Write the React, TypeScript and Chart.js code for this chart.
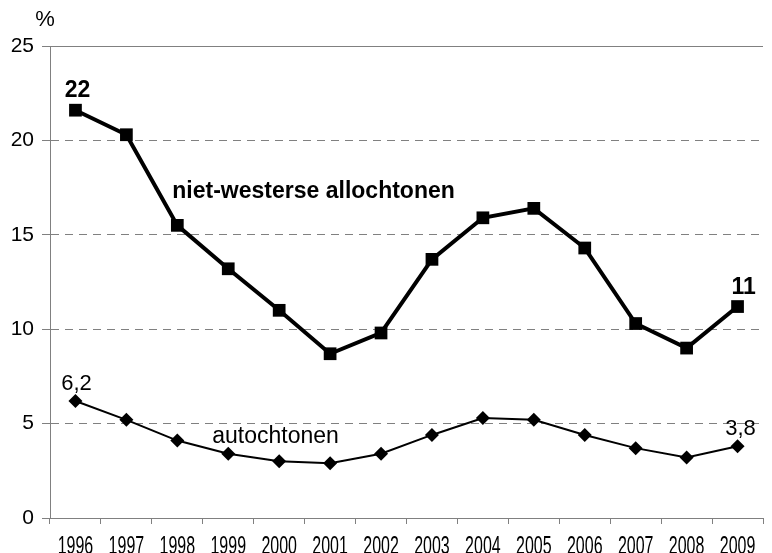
import React, { useEffect, useRef } from "react";
import { Chart, registerables } from "chart.js";

Chart.register(...registerables);

const years = ["1996", "1997", "1998", "1999", "2000", "2001", "2002", "2003", "2004", "2005", "2006", "2007", "2008", "2009"];
const nietWesters = [21.6, 20.3, 15.5, 13.2, 11.0, 8.7, 9.8, 13.7, 15.9, 16.4, 14.3, 10.3, 9.0, 11.2];
const autochtonen = [6.2, 5.2, 4.1, 3.4, 3.0, 2.9, 3.4, 4.4, 5.3, 5.2, 4.4, 3.7, 3.2, 3.8];
const yTicks = [0, 5, 10, 15, 20, 25];

const FONT = "'Liberation Sans', Arial, sans-serif";

const annotations = {
  id: "annotations",
  afterDatasetsDraw(chart: any) {
    const { ctx, scales } = chart;
    const x = scales.x;
    const y = scales.y;
    ctx.save();
    ctx.fillStyle = "#000";
    ctx.textAlign = "center";
    ctx.textBaseline = "middle";
    ctx.font = `22px ${FONT}`;
    ctx.fillText("%", 45, 20);
    const first = 0;
    const last = years.length - 1;
    ctx.font = `bold 23px ${FONT}`;
    ctx.fillText("22", x.getPixelForValue(first) + 2, y.getPixelForValue(nietWesters[first]) - 20);
    ctx.fillText("11", x.getPixelForValue(last) + 6, y.getPixelForValue(nietWesters[last]) - 19);
    ctx.font = `22px ${FONT}`;
    ctx.fillText("6,2", x.getPixelForValue(first) + 1, y.getPixelForValue(autochtonen[first]) - 17);
    ctx.fillText("3,8", x.getPixelForValue(last) + 3, y.getPixelForValue(autochtonen[last]) - 17);
    ctx.textAlign = "left";
    ctx.font = `bold 23px ${FONT}`;
    ctx.fillText("niet-westerse allochtonen", x.getPixelForValue(2) - 5, y.getPixelForValue(17.3));
    ctx.font = `23px ${FONT}`;
    ctx.fillText("autochtonen", x.getPixelForValue(3) - 16, y.getPixelForValue(4.3));

    // x-axis category labels, drawn condensed like the reference
    ctx.font = `25px ${FONT}`;
    ctx.textAlign = "center";
    ctx.textBaseline = "alphabetic";
    years.forEach((lab, i) => {
      ctx.save();
      ctx.translate(x.getPixelForValue(i), 554);
      ctx.scale(0.64, 1);
      ctx.fillText(lab, 0, 0);
      ctx.restore();
    });
    ctx.restore();
  },
};

export default function App() {
  const ref = useRef<HTMLCanvasElement>(null);
  useEffect(() => {
    if (!ref.current) return;
    const chart = new Chart(ref.current, {
      type: "line",
      data: {
        labels: years,
        datasets: [
          {
            label: "niet-westerse allochtonen",
            data: nietWesters,
            borderColor: "#000",
            backgroundColor: "#000",
            borderWidth: 4,
            pointStyle: "rect",
            pointRadius: 9,
            pointBorderWidth: 0,
            tension: 0,
          },
          {
            label: "autochtonen",
            data: autochtonen,
            borderColor: "#000",
            backgroundColor: "#000",
            borderWidth: 2,
            pointStyle: "rectRot",
            pointRadius: 7,
            pointBorderWidth: 0,
            tension: 0,
          },
        ],
      },
      options: {
        animation: false,
        responsive: false,
        maintainAspectRatio: false,
        layout: { padding: { top: 46, right: 1, left: 0, bottom: 0 } },
        plugins: { legend: { display: false }, tooltip: { enabled: false } },
        scales: {
          x: {
            type: "category",
            offset: true,
            grid: {
              offset: true,
              drawOnChartArea: false,
              drawTicks: true,
              tickLength: 6,
              color: "#808080",
            },
            border: { display: true, color: "#808080", width: 1 },
            ticks: {
              display: false,
              autoSkip: false,
            },
            afterFit(scale: any) {
              scale.height = 35;
            },
          },
          y: {
            min: 0,
            max: 25,
            afterBuildTicks(scale: any) {
              scale.ticks = yTicks.map((v) => ({ value: v }));
            },
            grid: {
              color: "#808080",
              lineWidth: 1,
              drawTicks: true,
              tickLength: 8,
              tickBorderDash: [],
            },
            border: {
              display: true,
              color: "#808080",
              width: 1,
              dash: (c: any) => (c.tick && c.tick.value === 25 ? [] : [8, 6]),
            },
            ticks: {
              color: "#000",
              font: { family: FONT, size: 21 },
              padding: 8,
            },
            afterFit(scale: any) {
              scale.width = 50;
            },
          },
        },
      },
      plugins: [annotations],
    } as any);
    return () => chart.destroy();
  }, []);
  return (
    <div style={{ position: "absolute", left: 0, top: 0, width: 772, height: 553 }}>
      <canvas ref={ref} width={772} height={553} style={{ display: "block", width: 772, height: 553 }} />
    </div>
  );
}
